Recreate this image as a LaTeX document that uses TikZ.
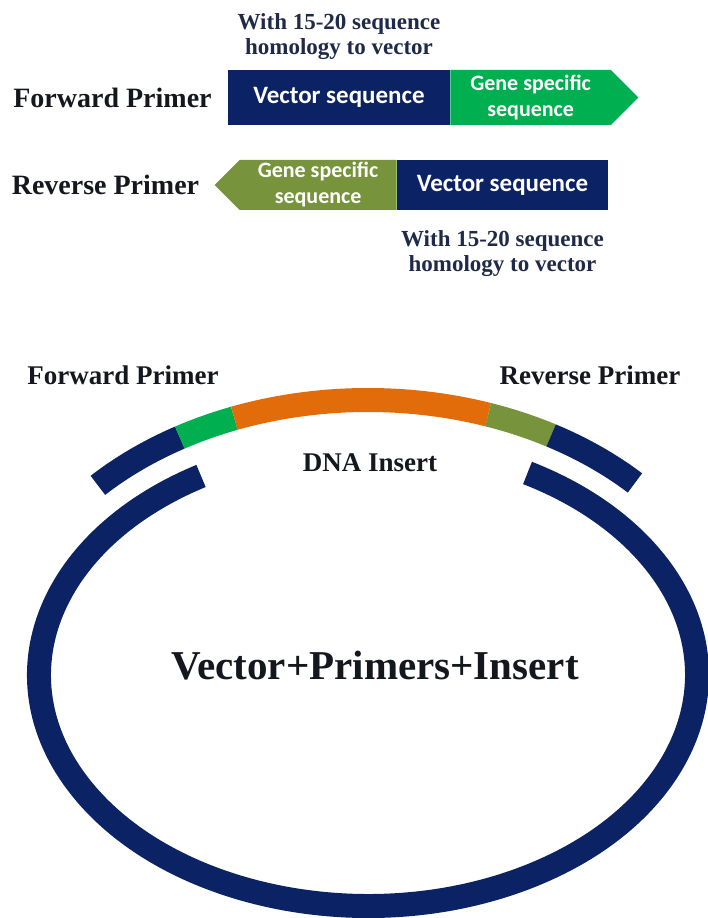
\documentclass[tikz,border=0pt]{standalone}
\usepackage{fontspec}
\setmainfont{Liberation Serif}
\newfontfamily\boxfont{Carlito}
\usepackage{tikz}
\usetikzlibrary{positioning,shapes.symbols}

\definecolor{vecblue}{HTML}{0B2265}
\definecolor{genegreen}{HTML}{00B050}
\definecolor{geneolive}{HTML}{77933C}
\definecolor{insorange}{HTML}{E36C0A}
\definecolor{notecol}{HTML}{1F2A48}
\definecolor{labcol}{HTML}{15171F}

\begin{document}
\begin{tikzpicture}[x=1pt, y=1pt,
    primerlab/.style={font=\bfseries\fontsize{28}{30}\selectfont, text=labcol, inner sep=0pt},
    notetext/.style={font=\bfseries\fontsize{23}{25}\selectfont, text=notecol, align=center, inner sep=0pt},
    vecbox/.style={rectangle, fill=vecblue, text=white, inner sep=0pt,
      font=\boxfont\bfseries\fontsize{25}{28}\selectfont},
    genebox/.style={signal, text=white, inner sep=0pt, align=center,
      font=\boxfont\bfseries\fontsize{22}{26}\selectfont}]
  \useasboundingbox (0,0) rectangle (707,918);

  % forward primer
  \node (fwdvec) [vecbox, minimum width=222pt, minimum height=55pt] at (339,820.5) {Vector sequence};
  \node (fwdgene) [genebox, fill=genegreen, signal to=east, minimum width=188pt, minimum height=55pt, right=0pt of fwdvec] {Gene specific\\sequence};
  \node (fwdlab) [primerlab, left=16pt of fwdvec] {Forward Primer};
  \node (fwdnote) [notetext, above=10pt of fwdvec] {With 15-20 sequence\\homology to vector};

  % reverse primer
  \node (revvec) [vecbox, minimum width=211pt, minimum height=50pt] at (502.5,733) {Vector sequence};
  \node (revgene) [genebox, fill=geneolive, signal to=west, minimum width=182pt, minimum height=50pt, left=0pt of revvec] {Gene specific\\sequence};
  \node (revlab) [primerlab, left=15pt of revgene] {Reverse Primer};
  \node (revnote) [notetext, below=20pt of revvec] {With 15-20 sequence\\homology to vector};

  % vector ring and insert
  \draw[vecblue, line width=24pt] (368,243) ++(120.5:329 and 231) arc[start angle=120.5, end angle=421, x radius=329, y radius=231];
  \draw[vecblue, line width=24pt] (368,243) ++(136.4:373 and 275) arc[start angle=136.4, end angle=120.3, x radius=373, y radius=275];
  \draw[genegreen, line width=24pt] (368,243) ++(120.3:373 and 275) arc[start angle=120.3, end angle=111, x radius=373, y radius=275];
  \draw[insorange, line width=24pt] (368,243) ++(111:373 and 275) arc[start angle=111, end angle=71.2, x radius=373, y radius=275];
  \draw[geneolive, line width=24pt] (368,243) ++(71.2:373 and 275) arc[start angle=71.2, end angle=60.6, x radius=373, y radius=275];
  \draw[vecblue, line width=24pt] (368,243) ++(60.6:373 and 275) arc[start angle=60.6, end angle=44.3, x radius=373, y radius=275];

  \node (botfwd) [primerlab, font=\bfseries\fontsize{27}{30}\selectfont] at (123,543) {Forward Primer};
  \node (botrev) [primerlab, font=\bfseries\fontsize{27}{30}\selectfont] at (590,543) {Reverse Primer};
  \node (dna) [primerlab, font=\bfseries\fontsize{27}{30}\selectfont] at (370,455) {DNA Insert};
  \node (title) [primerlab, font=\bfseries\fontsize{41}{44}\selectfont] at (375,252) {Vector+Primers+Insert};
\end{tikzpicture}
\end{document}
